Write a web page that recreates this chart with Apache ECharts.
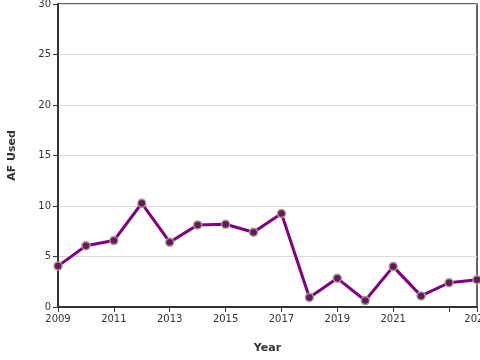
<!DOCTYPE html>
<html>
<head>
<meta charset="utf-8">
<script src="https://cdn.jsdelivr.net/npm/echarts@6/dist/echarts.min.js"></script>
<style>html,body{margin:0;padding:0;background:#fff}#c{width:480px;height:360px}</style>
</head>
<body>
<div id="c"></div>
<script>
const years = [2009,2010,2011,2012,2013,2014,2015,2016,2017,2018,2019,2020,2021,2022,2023,2024];
const afUsed = [4.05,6.06,6.58,10.27,6.42,8.13,8.19,7.4,9.25,0.95,2.84,0.64,4.0,1.1,2.4,2.7];
const yTicks = [0,5,10,15,20,25,30];
const xLabelHidden = [2023];

const chart = echarts.init(document.getElementById('c'), null, {renderer:'canvas'});
chart.setOption({
  animation:false,
  grid:{left:58,right:3,top:4,bottom:53,containLabel:false,outerBoundsMode:'none',
    show:true,borderColor:'#333',borderWidth:1.5,backgroundColor:'transparent'},
  xAxis:{
    type:'value',min:2009,max:2024,interval:2,
    name:'Year',nameLocation:'middle',nameGap:36,
    nameTextStyle:{fontFamily:'DejaVu Sans',fontWeight:'bold',fontSize:11,color:'#333'},
    axisLine:{lineStyle:{color:'#333',width:2}},
    axisTick:{show:true,length:5,lineStyle:{color:'#333',width:1}},
    axisLabel:{fontFamily:'DejaVu Sans',fontSize:10,color:'#333',margin:7,hideOverlap:false,
      formatter:v=>xLabelHidden.includes(v)?'':String(v)},
    splitLine:{show:false}
  },
  yAxis:{
    type:'value',min:yTicks[0],max:yTicks[yTicks.length-1],interval:5,
    name:'AF Used',nameLocation:'middle',nameGap:40,
    nameTextStyle:{fontFamily:'DejaVu Sans',fontWeight:'bold',fontSize:11,color:'#333'},
    axisLine:{show:true,lineStyle:{color:'#333',width:2}},
    axisTick:{show:true,length:5,lineStyle:{color:'#333',width:1}},
    axisLabel:{fontFamily:'DejaVu Sans',fontSize:10,color:'#333',margin:7},
    splitLine:{show:true,lineStyle:{color:'#d9d9d9',width:1}}
  },
  series:[{
    type:'line',
    data:years.map((y,i)=>[y,afUsed[i]]),
    lineStyle:{color:'#800080',width:3},
    symbol:'circle',symbolSize:8,
    itemStyle:{color:'#6b1463',borderColor:'#a0a080',borderWidth:1.5}
  }]
});
</script>
</body>
</html>
